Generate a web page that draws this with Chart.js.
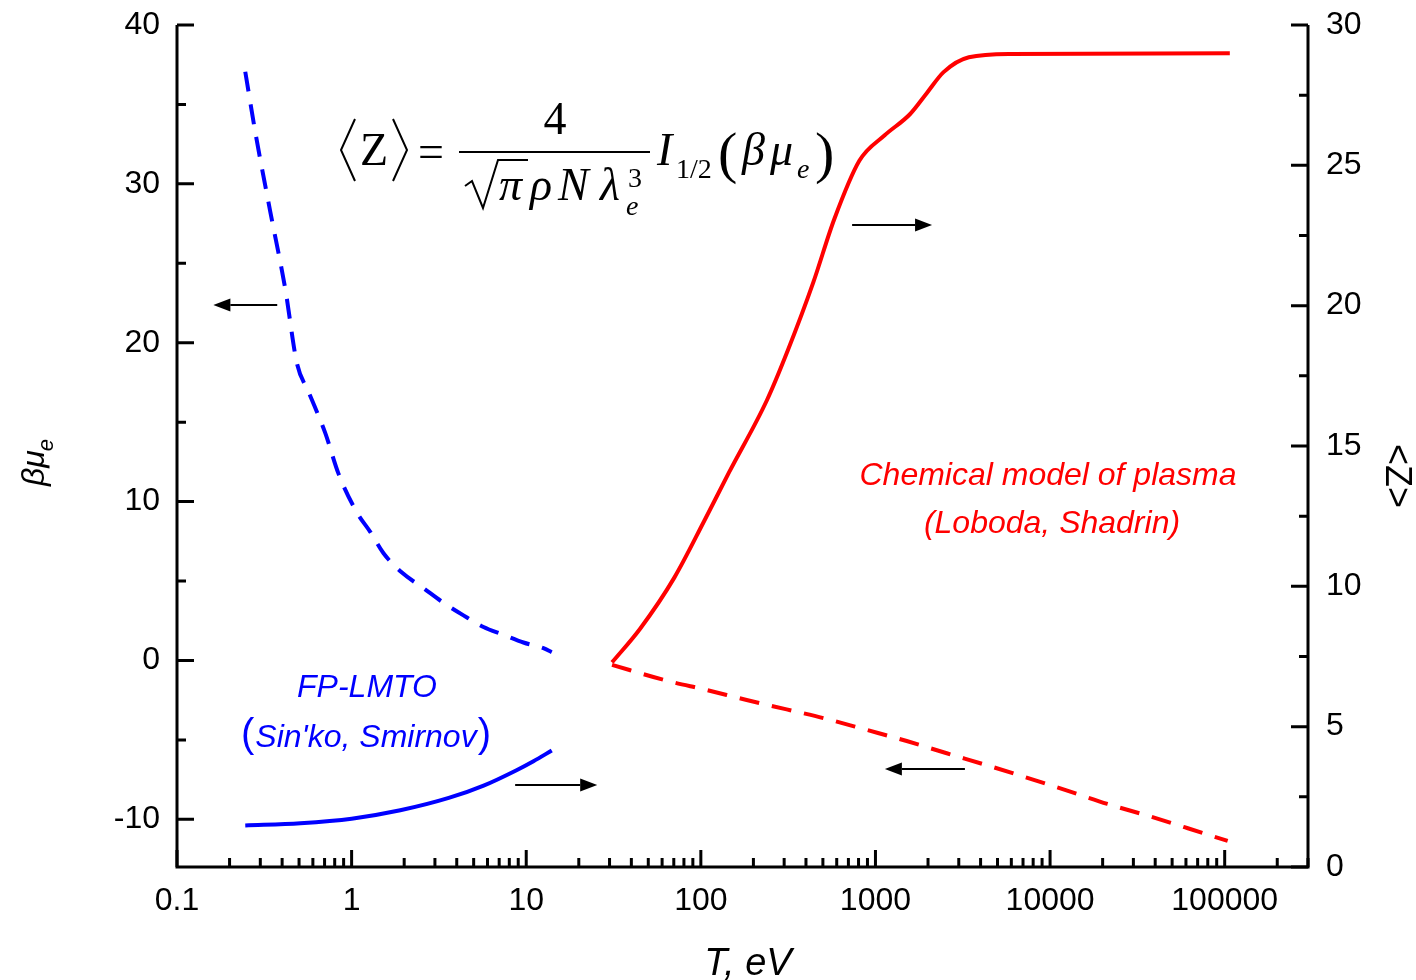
<!DOCTYPE html>
<html><head><meta charset="utf-8">
<script src="https://cdn.jsdelivr.net/npm/chart.js@4.4.1/dist/chart.umd.min.js"></script>
<style>html,body{margin:0;padding:0;background:#fff;}#wrap{width:1416px;height:980px;position:relative;}</style>
</head><body><div id="wrap"><canvas id="c" width="1416" height="980"></canvas></div>
<script>
// ---- data (T in eV) ----
const blueDashT  = [0.246, 0.281, 0.342, 0.417, 0.486, 0.567, 0.706, 0.841, 1.072, 1.278, 1.523, 1.941, 2.58, 3.29, 4.37, 5.69, 7.40, 9.64, 12.55, 14.0];
const blueDashB  = [37.06, 33.24, 28.26, 23.38, 18.72, 16.9, 14.33, 11.76, 9.32, 8.1, 6.75, 5.53, 4.55, 3.70, 2.84, 2.11, 1.62, 1.13, 0.77, 0.52];
const blueSolidT = [0.246, 0.509, 1.0, 1.9, 3.6, 5.7, 8.8, 11.0, 14.0];
const blueSolidZ = [1.48, 1.56, 1.72, 2.02, 2.46, 2.90, 3.45, 3.77, 4.15];
const redSolidT  = [31.0, 44.9, 70.5, 104, 145, 239, 315, 440, 580, 810, 1129, 1575, 1966, 2455, 3428, 5970, 107000];
const redSolidZ  = [7.29, 8.49, 10.31, 12.3, 14.06, 16.63, 18.41, 20.82, 23.07, 25.17, 26.07, 26.82, 27.57, 28.32, 28.85, 28.97, 28.99];
const redDashT   = [31.0, 63.8, 108, 183, 310, 526, 891, 1510, 2560, 4425, 12540, 21300, 36200, 61500, 104000];
const redDashB   = [-0.28, -1.27, -1.86, -2.49, -3.08, -3.68, -4.37, -5.07, -5.84, -6.62, -8.19, -9.03, -9.77, -10.56, -11.36];

const xTickValues     = [0.1, 1, 10, 100, 1000, 10000, 100000];
const leftTickValues  = [-10, 0, 10, 20, 30, 40];
const leftMinorValues = [-5, 5, 15, 25, 35];
const rightTickValues = [0, 5, 10, 15, 20, 25, 30];
const rightMinorValues= [2.5, 7.5, 12.5, 17.5, 22.5, 27.5];

// arrows: [axis, yValue, tailX, tipX]
const arrows = [
  ['yL', 22.37, 0.375, 0.1615],
  ['yR', 22.87, 735, 2109],
  ['yR', 2.92, 8.64, 25.5],
  ['yL', -6.83, 3253, 1132]
];

const SANS = '"Liberation Sans", Arial, sans-serif';
const SERIF = '"Liberation Serif", "Times New Roman", serif';
const zip = (a, b) => a.map((v, i) => ({x: v, y: b[i]}));

function drawFormula(ctx){
  ctx.save();
  ctx.fillStyle = '#000'; ctx.strokeStyle = '#000';
  ctx.textBaseline = 'alphabetic'; ctx.textAlign = 'left';
  ctx.lineWidth = 2;
  ctx.beginPath(); ctx.moveTo(355,119); ctx.lineTo(341,150); ctx.lineTo(355,181); ctx.stroke();
  ctx.font = '46px ' + SERIF; ctx.fillText('Z', 360, 165);
  ctx.beginPath(); ctx.moveTo(393,119); ctx.lineTo(407,150); ctx.lineTo(393,181); ctx.stroke();
  ctx.fillText('=', 418, 167);
  ctx.fillRect(459, 151, 191, 2);
  ctx.textAlign = 'center'; ctx.fillText('4', 555, 134);
  ctx.textAlign = 'left';
  ctx.lineWidth = 2;
  ctx.beginPath(); ctx.moveTo(465,186); ctx.lineTo(472,181); ctx.lineTo(483,208); ctx.lineTo(498,160); ctx.lineTo(528,160); ctx.stroke();
  ctx.font = 'italic 46px ' + SERIF;
  ctx.fillText('π', 499, 200); ctx.fillText('ρ', 530, 200); ctx.fillText('N', 558, 200); ctx.fillText('λ', 600, 200);
  ctx.font = '28px ' + SERIF; ctx.fillText('3', 628, 187);
  ctx.font = 'italic 28px ' + SERIF; ctx.fillText('e', 626, 215);
  ctx.font = 'italic 46px ' + SERIF; ctx.fillText('I', 657, 165);
  ctx.font = '28px ' + SERIF; ctx.fillText('1/2', 676, 178);
  ctx.font = '58px ' + SERIF; ctx.fillText('(', 718, 172);
  ctx.font = 'italic 46px ' + SERIF; ctx.fillText('β', 742, 165); ctx.fillText('μ', 770, 165);
  ctx.font = 'italic 28px ' + SERIF; ctx.fillText('e', 797, 178);
  ctx.font = '58px ' + SERIF; ctx.fillText(')', 815, 172);
  ctx.restore();
}

const deco = {
  id: 'deco',
  afterDraw(chart){
    const ctx = chart.ctx, a = chart.chartArea;
    const sx = chart.scales.x, sL = chart.scales.yL, sR = chart.scales.yR;
    ctx.save();
    ctx.strokeStyle = '#000'; ctx.lineWidth = 3; ctx.lineCap = 'butt'; ctx.lineJoin = 'miter';
    ctx.beginPath();
    ctx.moveTo(a.left, a.top); ctx.lineTo(a.left, a.bottom); ctx.lineTo(a.right, a.bottom); ctx.lineTo(a.right, a.top);
    ctx.stroke();
    const MAJ = 17, MIN = 9;
    ctx.beginPath();
    leftTickValues.forEach(v => { const y = sL.getPixelForValue(v); ctx.moveTo(a.left, y); ctx.lineTo(a.left + MAJ, y); });
    leftMinorValues.forEach(v => { const y = sL.getPixelForValue(v); ctx.moveTo(a.left, y); ctx.lineTo(a.left + MIN, y); });
    rightTickValues.forEach(v => { const y = sR.getPixelForValue(v); ctx.moveTo(a.right, y); ctx.lineTo(a.right - MAJ, y); });
    rightMinorValues.forEach(v => { const y = sR.getPixelForValue(v); ctx.moveTo(a.right, y); ctx.lineTo(a.right - MIN, y); });
    xTickValues.forEach(d => {
      const x = sx.getPixelForValue(d); ctx.moveTo(x, a.bottom); ctx.lineTo(x, a.bottom - MAJ);
      for (let m = 2; m <= 9; m++) {
        const v = d * m; if (v > sx.max * 1.0001) break;
        const xm = sx.getPixelForValue(v); ctx.moveTo(xm, a.bottom); ctx.lineTo(xm, a.bottom - MIN);
      }
    });
    ctx.stroke();

    // arrows
    ctx.lineWidth = 2; ctx.fillStyle = '#000';
    arrows.forEach(([ax, yv, x1, x2]) => {
      const y = chart.scales[ax].getPixelForValue(yv);
      const p1 = sx.getPixelForValue(x1), p2 = sx.getPixelForValue(x2);
      const dir = p2 > p1 ? 1 : -1, hl = 17, hw = 6.5;
      ctx.beginPath(); ctx.moveTo(p1, y); ctx.lineTo(p2 - dir * hl, y); ctx.stroke();
      ctx.beginPath(); ctx.moveTo(p2, y); ctx.lineTo(p2 - dir * hl, y - hw); ctx.lineTo(p2 - dir * hl, y + hw); ctx.closePath(); ctx.fill();
    });

    // labels
    ctx.textBaseline = 'alphabetic';
    ctx.fillStyle = '#0000ff'; ctx.textAlign = 'center';
    ctx.font = 'italic 32px ' + SANS; ctx.fillText('FP-LMTO', 367, 697);
    const inner = "Sin'ko, Smirnov"; const w = ctx.measureText(inner).width;
    ctx.fillText(inner, 366, 747);
    ctx.font = '40px ' + SANS;
    ctx.textAlign = 'right'; ctx.fillText('(', 366 - w / 2 - 1, 747);
    ctx.textAlign = 'left'; ctx.fillText(')', 366 + w / 2 + 1, 747);
    ctx.fillStyle = '#ff0000'; ctx.textAlign = 'center';
    ctx.font = 'italic 32px ' + SANS;
    ctx.fillText('Chemical model of plasma', 1048, 485);
    ctx.fillText('(Loboda, Shadrin)', 1052, 533);

    // axis titles
    ctx.fillStyle = '#000';
    ctx.font = 'italic 38px ' + SANS; ctx.textAlign = 'center';
    ctx.fillText('T, eV', 748, 975);
    ctx.save();
    ctx.translate(44, 486); ctx.rotate(-Math.PI / 2);
    ctx.textAlign = 'left'; ctx.font = 'italic 32px ' + SANS;
    ctx.fillText('βμ', 0, 0);
    const bw = ctx.measureText('βμ').width;
    ctx.font = 'italic 22px ' + SANS; ctx.fillText('e', bw - 1, 9);
    ctx.restore();
    ctx.save();
    ctx.translate(1386, 476); ctx.rotate(Math.PI / 2);
    ctx.textAlign = 'center'; ctx.font = '36px ' + SANS;
    ctx.fillText('<Z>', 0, 0);
    ctx.restore();

    drawFormula(ctx);
    ctx.restore();
  }
};

const tickFont = {family: SANS, size: 32};
const setTicks = vals => scale => { scale.ticks = vals.map(v => ({value: v})); };
const fitY = w => s => { s.width = w; s.paddingTop = 0; s.paddingBottom = 0; };

new Chart(document.getElementById('c'), {
  type: 'line',
  data: {
    datasets: [
      {data: zip(blueDashT, blueDashB), yAxisID: 'yL', borderColor: '#0000ff', borderWidth: 4, borderDash: [20, 13], pointRadius: 0, fill: false, cubicInterpolationMode: 'monotone'},
      {data: zip(blueSolidT, blueSolidZ), yAxisID: 'yR', borderColor: '#0000ff', borderWidth: 4, pointRadius: 0, fill: false, cubicInterpolationMode: 'monotone'},
      {data: zip(redSolidT, redSolidZ), yAxisID: 'yR', borderColor: '#ff0000', borderWidth: 4, pointRadius: 0, fill: false, cubicInterpolationMode: 'monotone'},
      {data: zip(redDashT, redDashB), yAxisID: 'yL', borderColor: '#ff0000', borderWidth: 4, borderDash: [20, 13], pointRadius: 0, fill: false, cubicInterpolationMode: 'monotone'}
    ]
  },
  options: {
    responsive: false, animation: false, devicePixelRatio: 1,
    layout: {padding: {top: 25, left: 0, right: 0, bottom: 0}},
    plugins: {legend: {display: false}, tooltip: {enabled: false}},
    scales: {
      x: {
        type: 'logarithmic', position: 'bottom', min: 0.1, max: 300000,
        grid: {display: false, drawTicks: false}, border: {display: false},
        ticks: {font: tickFont, color: '#000', padding: 15, maxRotation: 0, autoSkip: false, callback: v => String(v)},
        afterBuildTicks: setTicks(xTickValues),
        afterFit: s => { s.height = 113; s.paddingLeft = 0; s.paddingRight = 0; }
      },
      yL: {
        type: 'linear', position: 'left', min: -13, max: 40,
        grid: {display: false, drawTicks: false}, border: {display: false},
        ticks: {font: tickFont, color: '#000', padding: 17, callback: v => String(v)},
        afterBuildTicks: setTicks(leftTickValues),
        afterFit: fitY(177)
      },
      yR: {
        type: 'linear', position: 'right', min: 0, max: 30,
        grid: {display: false, drawTicks: false}, border: {display: false},
        ticks: {font: tickFont, color: '#000', padding: 18, callback: v => String(v)},
        afterBuildTicks: setTicks(rightTickValues),
        afterFit: fitY(108)
      }
    }
  },
  plugins: [deco]
});
</script></body></html>
